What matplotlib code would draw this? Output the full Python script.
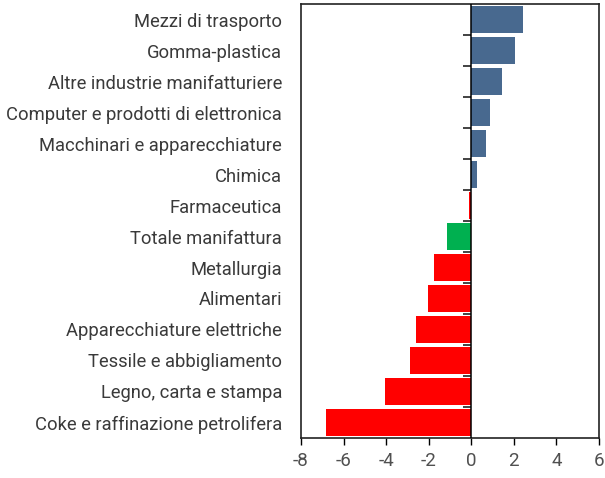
import numpy as np
import matplotlib.pyplot as plt

plt.rcParams['font.family'] = ['Roboto', 'DejaVu Sans']
plt.rcParams['axes.unicode_minus'] = False

# Settori (dall'alto in basso) e variazioni percentuali
settori = ['Mezzi di trasporto', 'Gomma-plastica', 'Altre industrie manifatturiere',
           'Computer e prodotti di elettronica', 'Macchinari e apparecchiature',
           'Chimica', 'Farmaceutica', 'Totale manifattura', 'Metallurgia',
           'Alimentari', 'Apparecchiature elettriche', 'Tessile e abbigliamento',
           'Legno, carta e stampa', 'Coke e raffinazione petrolifera']
valori = [2.43, 2.05, 1.44, 0.88, 0.69, 0.27, -0.12, -1.14, -1.75,
          -2.03, -2.6, -2.88, -4.05, -6.82]

blu = '#48698f'
rosso = '#ff0000'
verde = '#00b050'
colori = []
for s, v in zip(settori, valori):
    if s == 'Totale manifattura':
        colori.append(verde)
    elif v >= 0:
        colori.append(blu)
    else:
        colori.append(rosso)

fig = plt.figure(figsize=(6.05, 4.78), dpi=100)
ax = fig.add_axes([0.4975, 0.0837, 0.4925, 0.9079])

pos = np.arange(len(settori))[::-1]
ax.barh(pos, valori, height=0.84, color=colori, zorder=2)

ax.set_xlim(-8, 6)
ax.set_ylim(-0.5, len(settori) - 0.5)
ax.set_xticks(np.arange(-8, 7, 2))
ax.set_yticks(pos)
ax.set_yticklabels(settori, fontsize=13.2)
ax.tick_params(axis='y', length=0, pad=13.5, labelcolor='#3a3a3a')
ax.tick_params(axis='x', length=5, width=1, direction='out', labelsize=13.5,
               labelcolor='#505050', pad=5)
for sp in ax.spines.values():
    sp.set_color('#222222')
    sp.set_linewidth(1.2)

# asse dello zero con tacche tra le categorie
ax.axvline(0, color='black', linewidth=1.1, zorder=3)
asse0 = ax.secondary_yaxis(8 / 14)
asse0.yaxis.set_ticks_position('left')
asse0.set_yticks(np.arange(len(settori) - 1) + 0.5)
asse0.set_yticklabels([])
asse0.tick_params(length=6, width=1.2, color='#222222', direction='out')
for sp in asse0.spines.values():
    sp.set_visible(False)

fig.savefig('out.png', dpi=100)
